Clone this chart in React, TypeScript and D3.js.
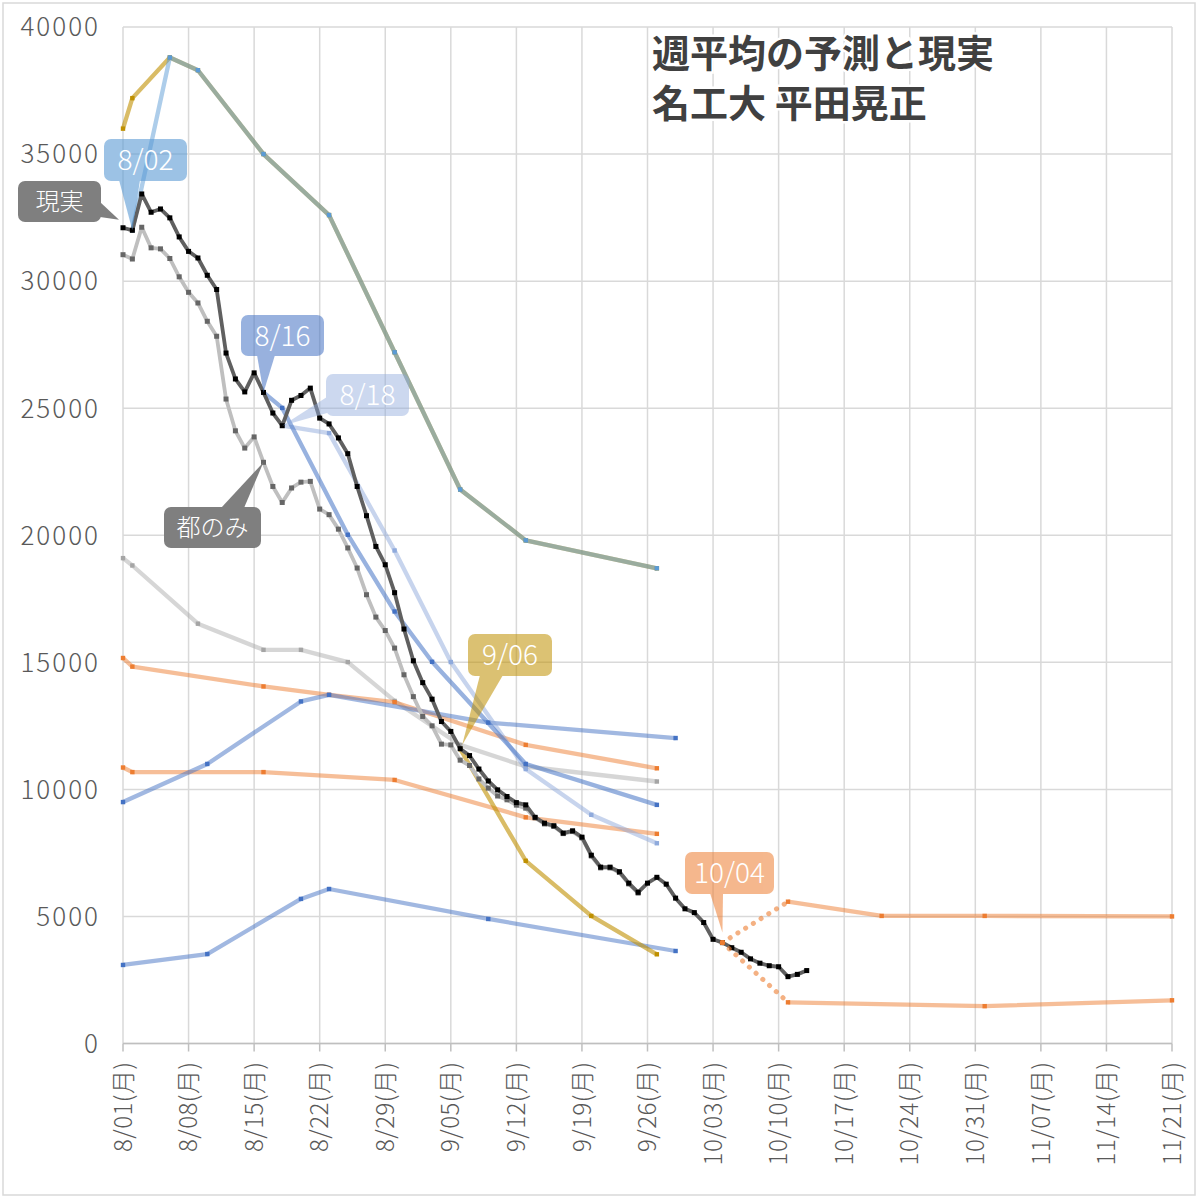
import * as d3 from 'd3';

// 現実 (daily, from 8/01)
const actualStart = '8/01';
const actualValues = [
  32100, 32000, 33430, 32710, 32840, 32490, 31740, 31170, 30910, 30230,
  29670, 27170, 26150, 25640, 26390, 25620, 24810, 24310, 25310, 25500,
  25790, 24610, 24380, 23830, 23210, 21920, 20770, 19560, 18840, 17740,
  16310,
  15060, 14200, 13550, 12670, 12280, 11600, 11330, 10800, 10330, 9980,
  9720, 9480, 9390, 8900, 8670, 8570, 8280, 8370, 8120, 7410,
  6940, 6940, 6760, 6310, 5950, 6310, 6540, 6270, 5720, 5300,
  5150, 4760, 4100, 3970, 3770, 3590, 3330, 3160, 3060, 3020,
  2630, 2720, 2870,
];

// 都のみ (daily, from 8/01)
const tokyoValues = [
  31040, 30870, 32120, 31310, 31270, 30890, 30170, 29560, 29140, 28420,
  27830, 25360, 24110, 23430, 23870, 22870, 21920, 21290, 21860, 22090,
  22120, 21030, 20810, 20240, 19500, 18710, 17660, 16780, 16250, 15560,
  14510,
  13650, 12870, 12500, 11780, 11750, 11150, 10940, 10410, 10050, 9740,
  9590, 9380, 9260, 8880, 8640, 8540, 8260, 8340, 8090, 7380,
  6910, 6910, 6730, 6280, 5920,
];

// predictions
const predGray: [string, number][] = [
  ['8/01', 19100], ['8/02', 18810], ['8/09', 16520], ['8/16', 15490], ['8/20', 15490],
  ['8/25', 15010], ['8/30', 13480], ['9/06', 11750], ['9/13', 10900], ['9/27', 10310],
];
const predOrangeHigh: [string, number][] = [
  ['8/01', 15170], ['8/02', 14830], ['8/16', 14050], ['8/23', 13720], ['8/30', 13430],
  ['9/13', 11750], ['9/27', 10830],
];
const predOrangeLow: [string, number][] = [
  ['8/01', 10860], ['8/02', 10680], ['8/16', 10680], ['8/30', 10370], ['9/13', 8900],
  ['9/27', 8250],
];
const predBlueMid: [string, number][] = [
  ['8/01', 9500], ['8/10', 11000], ['8/20', 13460], ['8/23', 13720], ['9/09', 12630],
  ['9/29', 12020],
];
const predBlueLow: [string, number][] = [
  ['8/01', 3090], ['8/10', 3520], ['8/20', 5690], ['8/23', 6080], ['9/09', 4900],
  ['9/29', 3640],
];
const predYellowEarly: [string, number][] = [
  ['8/01', 36000], ['8/02', 37200], ['8/06', 38800], ['8/09', 38300], ['8/16', 35000],
  ['8/23', 32600], ['8/30', 27200], ['9/06', 21800], ['9/13', 19800], ['9/27', 18700],
];
const pred0802: [string, number][] = [
  ['8/02', 32000], ['8/06', 38800], ['8/09', 38300], ['8/16', 35000], ['8/23', 32600],
  ['8/30', 27200], ['9/06', 21800], ['9/13', 19800], ['9/27', 18700],
];
const pred0816: [string, number][] = [
  ['8/16', 25620], ['8/18', 25010], ['8/25', 20020], ['8/30', 17000], ['9/03', 15020],
  ['9/13', 11000], ['9/27', 9390],
];
const pred0818: [string, number][] = [
  ['8/18', 24310], ['8/23', 24020], ['8/30', 19400], ['9/05', 15010], ['9/13', 10800],
  ['9/20', 9000], ['9/27', 7880],
];
const pred0906: [string, number][] = [
  ['9/06', 11590], ['9/13', 7190], ['9/20', 5020], ['9/27', 3510],
];
const pred1004High: [string, number][] = [
  ['10/04', 3970], ['10/11', 5580], ['10/21', 5020], ['11/01', 5020], ['11/21', 5000],
];
const pred1004Low: [string, number][] = [
  ['10/04', 3970], ['10/11', 1620], ['11/01', 1470], ['11/21', 1700],
];

const yTicks = [0, 5000, 10000, 15000, 20000, 25000, 30000, 35000, 40000];
const xTickDates = [
  '8/01', '8/08', '8/15', '8/22', '8/29', '9/05', '9/12', '9/19', '9/26',
  '10/03', '10/10', '10/17', '10/24', '10/31', '11/07', '11/14', '11/21',
];
const xTickLabels = [
  '8/01(月)', '8/08(月)', '8/15(月)', '8/22(月)', '8/29(月)', '9/05(月)', '9/12(月)',
  '9/19(月)', '9/26(月)', '10/03(月)', '10/10(月)', '10/17(月)', '10/24(月)',
  '10/31(月)', '11/07(月)', '11/14(月)', '11/21(月)',
];
const titleLines = ['週平均の予測と現実', '名工大 平田晃正'];

const md = (s: string) => {
  const [m, d] = s.split('/').map(Number);
  return new Date(Date.UTC(2022, m - 1, d));
};

const x = d3.scaleUtc().domain([md('8/01'), md('11/21')]).range([123, 1172]);
const y = d3.scaleLinear().domain([0, 40000]).range([1043.5, 27]);

type Pt = { date: Date; value: number };
const toPts = (arr: [string, number][]): Pt[] => arr.map(([d, v]) => ({ date: md(d), value: v }));
const daily = (start: string, values: number[]): Pt[] =>
  values.map((v, i) => ({ date: d3.utcDay.offset(md(start), i), value: v }));

const line = d3
  .line<Pt>()
  .x((d) => x(d.date))
  .y((d) => y(d.value));

const FONT = '"Noto Sans CJK JP", "Noto Sans", sans-serif';

function Series({
  pts,
  color,
  opacity = 0.5,
  marker,
  width = 4.3,
  size = 4.4,
  dottedFirst = false,
}: {
  pts: Pt[];
  color: string;
  opacity?: number;
  marker?: string;
  width?: number;
  size?: number;
  dottedFirst?: boolean;
}) {
  const solid = dottedFirst ? pts.slice(1) : pts;
  return (
    <g>
      {dottedFirst && (
        <path
          d={line(pts.slice(0, 2)) || ''}
          fill="none"
          stroke={color}
          strokeOpacity={0.6}
          strokeWidth={5}
          strokeLinecap="round"
          strokeDasharray="0.1 9"
        />
      )}
      <path
        d={line(solid) || ''}
        fill="none"
        stroke={color}
        strokeOpacity={opacity}
        strokeWidth={width}
        strokeLinejoin="round"
      />
      {pts.map((p, i) => (
        <rect
          key={i}
          x={x(p.date) - size / 2}
          y={y(p.value) - size / 2}
          width={size}
          height={size}
          fill={marker || color}
        />
      ))}
    </g>
  );
}

type Callout = {
  text: string;
  color: string;
  alpha: number;
  box: [number, number, number, number];
  base: [number, number, number, number];
  at: [string, number];
  off: [number, number];
  size: number;
};

const callouts: Callout[] = [
  { text: '現実', color: '#7f7f7f', alpha: 1, box: [18, 181, 83, 41], base: [100, 202, 100, 217], at: ['8/01', 32100], off: [-4, -8], size: 24 },
  { text: '8/02', color: '#5b9bd5', alpha: 0.6, box: [104, 139, 83, 42], base: [119, 180, 140, 180], at: ['8/02', 32000], off: [0, 0], size: 28 },
  { text: '8/16', color: '#4472c4', alpha: 0.55, box: [241, 315, 83, 41], base: [257, 355, 275, 355], at: ['8/16', 25620], off: [0, 0], size: 28 },
  { text: '8/18', color: '#8faadc', alpha: 0.45, box: [326, 374, 83, 42], base: [327, 397, 327, 413], at: ['8/18', 24310], off: [0, 0], size: 28 },
  { text: '都のみ', color: '#7f7f7f', alpha: 1, box: [164, 507, 97, 41], base: [221, 508, 244, 508], at: ['8/16', 22870], off: [0, 0], size: 24 },
  { text: '9/06', color: '#bf9000', alpha: 0.55, box: [468, 634, 84, 42], base: [480, 675, 503, 675], at: ['9/06', 11590], off: [2, -4], size: 28 },
  { text: '10/04', color: '#ed7d31', alpha: 0.55, box: [685, 852, 89, 42], base: [710, 893, 723, 893], at: ['10/04', 3970], off: [0, -10], size: 28 },
];

export default function App() {
  const plotL = x.range()[0];
  const plotR = x.range()[1];
  const plotT = y.range()[1];
  const plotB = y.range()[0];

  return (
    <svg
      width={1198}
      height={1200}
      viewBox="0 0 1198 1200"
      style={{ position: 'absolute', left: 0, top: 0, background: '#fff' }}
    >
      <rect x={3} y={3} width={1192} height={1192} fill="#fff" stroke="#d9d9d9" strokeWidth={1.5} />

      {/* grid */}
      {yTicks.map((t) => (
        <line key={'h' + t} x1={plotL} x2={plotR} y1={y(t)} y2={y(t)} stroke="#d9d9d9" strokeWidth={1.5} />
      ))}
      {xTickDates.map((d) => (
        <line key={'v' + d} x1={x(md(d))} x2={x(md(d))} y1={plotT} y2={plotB} stroke="#d9d9d9" strokeWidth={1.5} />
      ))}

      {/* axes */}
      <line x1={plotL} x2={plotR} y1={plotB} y2={plotB} stroke="#bfbfbf" strokeWidth={1.5} />
      {xTickDates.map((d) => (
        <line key={'t' + d} x1={x(md(d))} x2={x(md(d))} y1={plotB} y2={plotB + 8} stroke="#bfbfbf" strokeWidth={1.5} />
      ))}
      {yTicks.map((t) => (
        <text
          key={'yl' + t}
          x={100}
          y={y(t)}
          dy="0.36em"
          textAnchor="end"
          fontFamily={FONT}
          fontWeight={300}
          fontSize={26}
          letterSpacing={2}
          fill="#595959"
        >
          {t}
        </text>
      ))}
      {xTickDates.map((d, i) => (
        <text
          key={'xl' + d}
          transform={`translate(${x(md(d))},${plotB + 18}) rotate(-90)`}
          dy="0.36em"
          textAnchor="end"
          fontFamily={FONT}
          fontWeight={300}
          fontSize={24}
          letterSpacing={0.5}
          fill="#595959"
        >
          {xTickLabels[i]}
        </text>
      ))}

      {/* title */}
      {titleLines.map((t, i) => (
        <text
          key={'title' + i}
          x={652}
          y={67 + i * 50}
          fontFamily={FONT}
          fontWeight={700}
          fontSize={38}
          fill="#404040"
          stroke="#fff"
          strokeWidth={5}
          paintOrder="stroke"
        >
          {t}
        </text>
      ))}

      {/* predictions */}
      <Series pts={toPts(predGray)} color="#a5a5a5" opacity={0.45} />
      <Series pts={toPts(predOrangeHigh)} color="#ed7d31" />
      <Series pts={toPts(predOrangeLow)} color="#ed7d31" />
      <Series pts={toPts(predBlueMid)} color="#4472c4" />
      <Series pts={toPts(predBlueLow)} color="#4472c4" />
      <Series pts={toPts(pred0818)} color="#8faadc" opacity={0.5} />
      <Series pts={toPts(pred0816)} color="#4472c4" opacity={0.55} />
      <Series pts={toPts(predYellowEarly)} color="#bf9000" opacity={0.6} />
      <Series pts={toPts(pred0802)} color="#5b9bd5" opacity={0.5} />
      <Series pts={toPts(pred0906)} color="#bf9000" opacity={0.6} />

      {/* observed */}
      <Series pts={daily(actualStart, tokyoValues)} color="#bfbfbf" opacity={1} marker="#666" width={3.8} size={5} />
      <Series pts={daily(actualStart, actualValues)} color="#606060" opacity={1} marker="#000" width={3.8} size={5} />

      <Series pts={toPts(pred1004High)} color="#ed7d31" dottedFirst />
      <Series pts={toPts(pred1004Low)} color="#ed7d31" dottedFirst />

      {/* callouts */}
      {callouts.map((c) => {
        const [bx, by, bw, bh] = c.box;
        const ax = x(md(c.at[0])) + c.off[0];
        const ay = y(c.at[1]) + c.off[1];
        return (
          <g key={c.text} opacity={c.alpha}>
            <rect x={bx} y={by} width={bw} height={bh} rx={7} fill={c.color} />
            <polygon points={`${c.base[0]},${c.base[1]} ${c.base[2]},${c.base[3]} ${ax},${ay}`} fill={c.color} />
          </g>
        );
      })}
      {callouts.map((c) => {
        const [bx, by, bw, bh] = c.box;
        return (
          <text
            key={'ct' + c.text}
            x={bx + bw / 2}
            y={by + bh / 2}
            dy="0.36em"
            textAnchor="middle"
            fontFamily={FONT}
            fontWeight={300}
            fontSize={c.size}
            fill="#fff"
          >
            {c.text}
          </text>
        );
      })}
    </svg>
  );
}
